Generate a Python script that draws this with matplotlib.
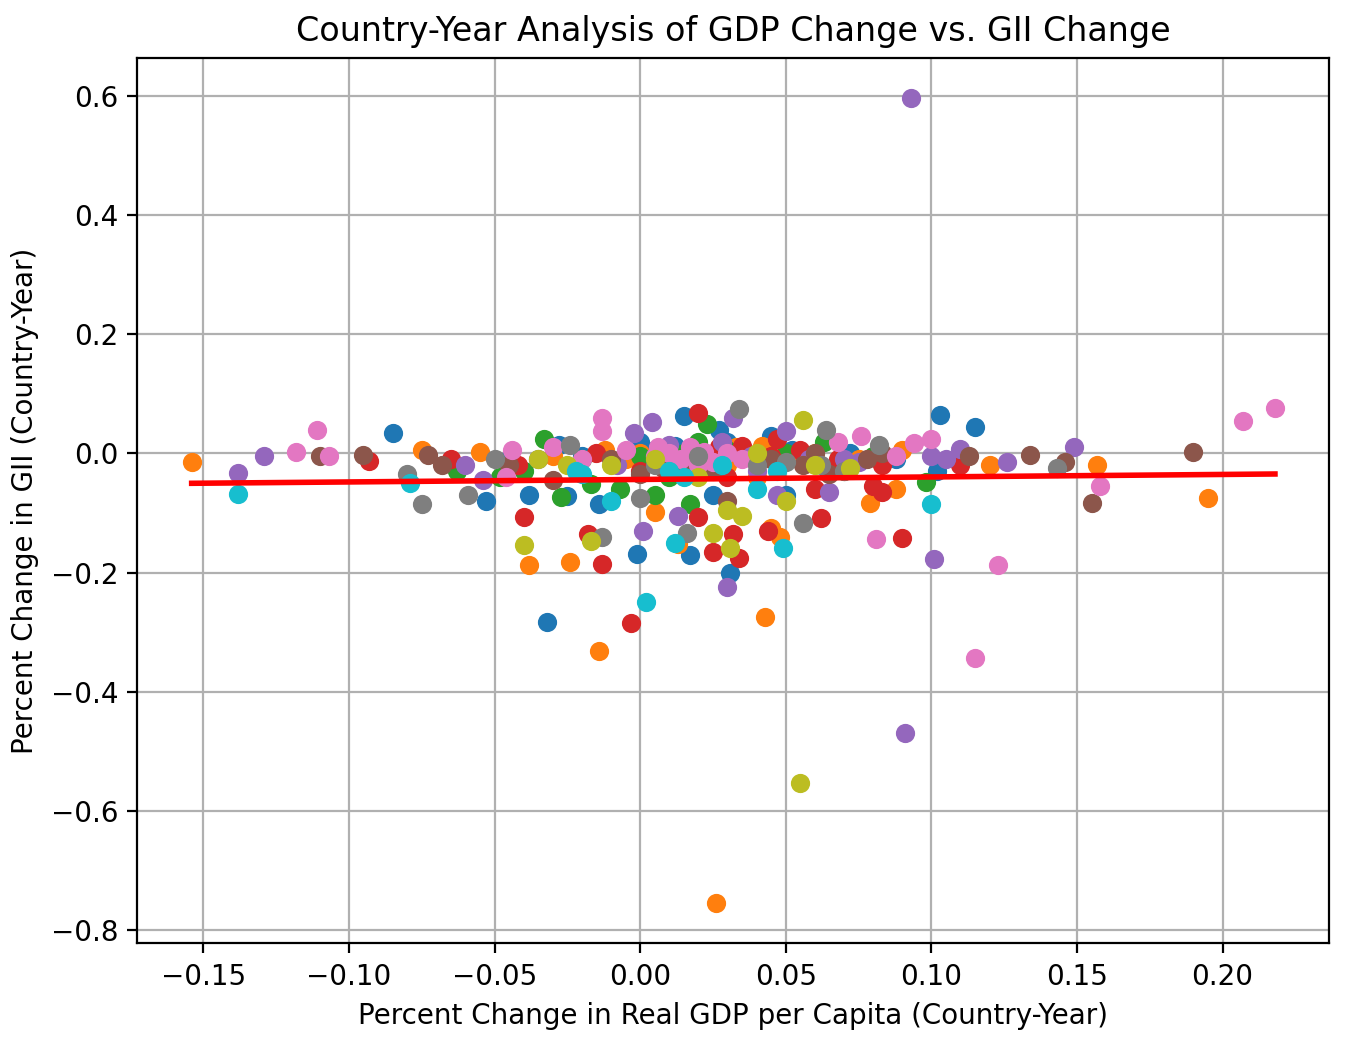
import numpy as np
import matplotlib.pyplot as plt

# (x, y) pairs per country group
blue = [(-0.085,0.035),(-0.053,-0.08),(-0.032,-0.283),(-0.038,-0.07),(-0.025,-0.072),(-0.014,-0.085),(-0.001,-0.168),(0.015,0.063),(0.017,-0.17),(0.025,-0.07),(0.031,-0.2),(0.027,0.04),(0.045,0.03),(0.05,-0.07),(0.103,0.065),(0.115,0.045),(0.102,-0.03),(-0.028,0.015),(0.01,-0.02),(0.02,0.01),(0.06,-0.01),(0.0,0.02),
        (-0.045,-0.01),(-0.02,-0.005),(0.005,0.005),(0.022,-0.01),(0.035,0.0),(0.052,0.005),(0.072,0.0),(0.088,-0.01),(0.012,0.012),(0.03,0.02)]
orange = [(-0.154,-0.015),(-0.075,0.005),(-0.055,0.003),(-0.038,-0.188),(-0.024,-0.183),(-0.014,-0.332),(0.005,-0.098),(0.013,-0.152),(0.026,-0.755),(0.043,-0.275),(0.045,-0.125),(0.048,-0.14),(0.079,-0.083),(0.088,-0.06),(0.12,-0.02),(0.157,-0.02),(0.195,-0.075),(0.04,-0.04),(-0.005,-0.01),(0.03,-0.02),(0.06,0.0),(-0.012,0.005),
          (-0.03,-0.005),(0.0,0.0),(0.018,0.005),(0.042,0.012),(0.055,-0.005),(0.075,-0.01),(0.09,0.005),(0.01,-0.015),(0.033,0.01)]
green = [(-0.063,-0.03),(-0.048,-0.04),(-0.033,0.025),(-0.027,-0.073),(-0.017,-0.052),(-0.007,-0.06),(0.005,-0.07),(0.017,-0.085),(0.02,0.02),(0.023,0.05),(0.063,0.02),(0.098,-0.048),(0.07,-0.03),(0.04,-0.01),(0.01,-0.04),(-0.04,-0.03),
         (-0.02,-0.01),(0.0,-0.005),(0.015,0.0),(0.03,0.005),(0.05,0.0),(0.058,-0.01),(0.08,-0.005),(0.026,-0.015)]
red = [(-0.093,-0.013),(-0.04,-0.107),(-0.018,-0.135),(-0.013,-0.185),(-0.003,-0.285),(0.02,-0.107),(0.025,-0.165),(0.032,-0.135),(0.034,-0.175),(0.044,-0.13),(0.062,-0.108),(0.08,-0.055),(0.083,-0.065),(0.09,-0.142),(0.11,-0.02),(0.02,0.068),(0.047,0.025),(-0.042,-0.02),(0.0,-0.03),(0.03,-0.04),(-0.065,-0.01),(0.06,-0.06),
       (-0.015,0.0),(0.008,0.005),(0.016,-0.01),(0.027,0.01),(0.035,0.012),(0.045,-0.005),(0.055,0.005),(0.068,-0.01),(0.083,-0.02)]
purple = [(-0.138,-0.032),(-0.129,-0.005),(-0.06,-0.02),(-0.054,-0.045),(0.001,-0.13),(0.004,0.053),(0.013,-0.105),(0.03,-0.225),(0.032,0.06),(0.047,-0.07),(0.05,0.038),(0.065,-0.065),(0.091,-0.47),(0.093,0.597),(0.101,-0.177),(0.11,0.008),(0.149,0.01),(0.126,-0.015),(-0.002,0.035),(0.07,-0.01),(0.04,-0.03),(0.02,0.0),
          (-0.008,-0.02),(0.01,0.015),(0.028,0.02),(0.038,-0.005),(0.058,-0.01),(0.075,-0.015),(0.1,-0.005),(0.105,-0.01)]
brown = [(-0.11,-0.005),(-0.095,-0.002),(-0.073,-0.002),(-0.03,-0.045),(0.0,-0.035),(0.03,-0.08),(0.056,-0.02),(0.083,0.0),(0.113,-0.005),(0.134,-0.003),(0.146,-0.015),(0.155,-0.083),(0.19,0.002),(0.06,0.0),(0.015,-0.02),(-0.045,-0.02),
         (-0.068,-0.02),(-0.01,-0.01),(0.008,-0.025),(0.025,-0.03),(0.045,-0.01),(0.065,-0.035),(0.078,-0.01)]
pink = [(-0.118,0.003),(-0.111,0.04),(-0.107,-0.005),(-0.044,0.005),(-0.046,-0.04),(-0.013,0.06),(-0.013,0.038),(0.006,0.01),(0.014,-0.01),(0.076,0.03),(0.081,-0.143),(0.094,0.017),(0.1,0.025),(0.115,-0.343),(0.123,-0.187),(0.158,-0.055),(0.207,0.055),(0.218,0.077),(0.01,0.0),(0.02,-0.02),(-0.02,-0.01),(0.03,0.0),(0.005,-0.005),(0.025,-0.015),
        (-0.03,0.01),(-0.005,0.005),(0.017,0.01),(0.022,0.003),(0.035,-0.01),(0.068,0.02),(0.088,-0.005)]
gray = [(-0.08,-0.035),(-0.075,-0.085),(-0.059,-0.07),(-0.024,0.015),(-0.013,-0.14),(0.0,-0.075),(0.016,-0.133),(0.034,0.075),(0.056,-0.117),(0.064,0.04),(0.082,0.015),(0.143,-0.025),(0.04,-0.02),(-0.05,-0.01),(0.07,-0.03),
        (-0.035,-0.01),(0.005,-0.02),(0.02,-0.005),(0.05,-0.015),(0.062,-0.02)]
olive = [(-0.04,-0.153),(-0.035,-0.01),(-0.017,-0.147),(0.025,-0.133),(0.03,-0.095),(0.031,-0.158),(0.035,-0.105),(0.05,-0.08),(0.055,-0.553),(0.056,0.056),(0.02,-0.04),(-0.01,-0.02),
         (-0.025,-0.02),(0.005,-0.01),(0.04,0.0),(0.06,-0.02),(0.072,-0.025)]
cyan = [(-0.138,-0.068),(-0.079,-0.05),(-0.02,-0.035),(-0.01,-0.08),(0.002,-0.25),(0.012,-0.15),(0.049,-0.158),(0.1,-0.085),(0.015,-0.04),(0.04,-0.06),
        (-0.022,-0.03),(0.01,-0.03),(0.028,-0.02),(0.047,-0.03)]

groups = [blue, orange, green, red, purple, brown, pink, gray, olive, cyan]

fig, ax = plt.subplots(figsize=(6.74, 5.23), dpi=200)
for g in groups:
    a = np.array(g)
    ax.scatter(a[:, 0], a[:, 1], s=35, zorder=2)

allp = np.vstack([np.array(g) for g in groups])
m, b = np.polyfit(allp[:, 0], allp[:, 1], 1)
xs = np.array([allp[:, 0].min(), allp[:, 0].max()])
ax.plot(xs, m * xs + b, color='red', linewidth=2, zorder=3)

ax.set_xlabel("Percent Change in Real GDP per Capita (Country-Year)")
ax.set_ylabel("Percent Change in GII (Country-Year)")
ax.set_title("Country-Year Analysis of GDP Change vs. GII Change")
ax.grid(True)
ax.set_axisbelow(True)
plt.subplots_adjust(left=0.102, right=0.986, top=0.945, bottom=0.098)
plt.savefig("out.png")
